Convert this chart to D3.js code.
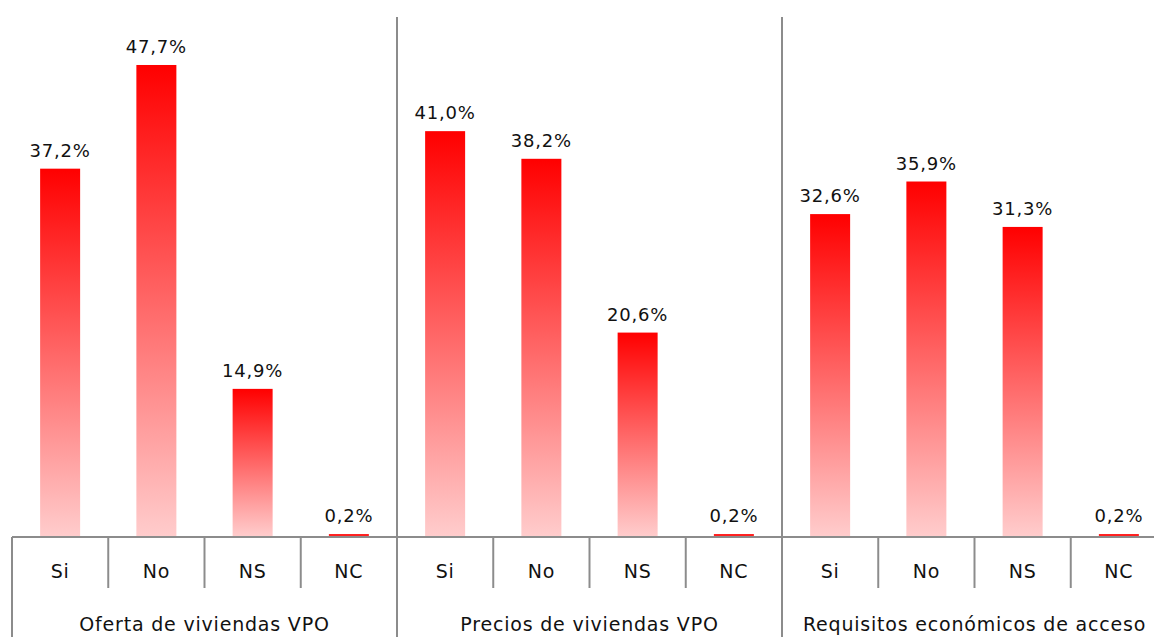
<!DOCTYPE html>
<html>
<head>
<meta charset="utf-8">
<script src="https://cdn.jsdelivr.net/npm/d3@7"></script>
<style>
  html, body { margin: 0; padding: 0; background: #fff; }
  svg { display: block; }
</style>
</head>
<body>
<div id="chart"></div>
<script>
// ── Data ───────────────────────────────────────────────────────────────
const groups = ["Oferta de viviendas VPO", "Precios de viviendas VPO", "Requisitos económicos de acceso"];
const answers = ["Si", "No", "NS", "NC"];
const oferta = [37.2, 47.7, 14.9, 0.2];
const precios = [41.0, 38.2, 20.6, 0.2];
const requisitos = [32.6, 35.9, 31.3, 0.2];
const seriesValues = [oferta, precios, requisitos];

const W = 1154, H = 637;
const left = 12, catW = 96.25;
const baseY = 536, topY = 17;

const svg = d3.select("#chart").append("svg")
    .attr("width", W).attr("height", H)
    .style("font-family", "'DejaVu Sans', Verdana, sans-serif");

const defs = svg.append("defs");
const grad = defs.append("linearGradient")
    .attr("id", "barGrad")
    .attr("x1", 0).attr("y1", 0).attr("x2", 0).attr("y2", 1);
grad.append("stop").attr("offset", "0%").attr("stop-color", "#ff0000");
grad.append("stop").attr("offset", "100%").attr("stop-color", "#ffcccc");

// ── Scales ─────────────────────────────────────────────────────────────
const x0 = d3.scaleBand()
    .domain(groups)
    .range([left, left + catW * 4 * groups.length])
    .paddingInner(0).paddingOuter(0);

const x1 = d3.scaleBand()
    .domain(answers)
    .range([0, x0.bandwidth()]);

const y = d3.scaleLinear().domain([0, 52.56]).range([baseY, topY]);

const rows = [];
groups.forEach((g, gi) => {
    answers.forEach((a, ai) => {
        rows.push({ group: g, answer: a, value: seriesValues[gi][ai] });
    });
});

// ── Bars ───────────────────────────────────────────────────────────────
const barW = 40;
svg.append("g").selectAll("rect")
    .data(rows)
    .join("rect")
    .attr("x", d => x0(d.group) + x1(d.answer) + x1.bandwidth() / 2 - barW / 2)
    .attr("y", d => y(d.value))
    .attr("width", barW)
    .attr("height", d => Math.max(2, baseY - y(d.value)))
    .attr("fill", d => d.value < 1 ? "#ff2020" : "url(#barGrad)");

svg.append("g").selectAll("text")
    .data(rows)
    .join("text")
    .attr("x", d => x0(d.group) + x1(d.answer) + x1.bandwidth() / 2)
    .attr("y", d => y(d.value) - 12)
    .attr("text-anchor", "middle")
    .style("font-size", "18px")
    .style("letter-spacing", "0.8px")
    .style("fill", "#111")
    .text(d => d.value.toFixed(1).replace(".", ",") + "%");

// ── Axis ───────────────────────────────────────────────────────────────
const lineColor = "#8c8c8c";
const axisY = baseY + 1;

svg.append("line")
    .attr("x1", left).attr("x2", W)
    .attr("y1", axisY).attr("y2", axisY)
    .attr("stroke", lineColor).attr("stroke-width", 2);

// group separators (full height) and left edge
const groupEdges = groups.map(g => x0(g)).concat([x0.range()[1]]);
groupEdges.forEach((gx, i) => {
    svg.append("line")
        .attr("x1", gx).attr("x2", gx)
        .attr("y1", i === 0 ? axisY : topY).attr("y2", H)
        .attr("stroke", lineColor).attr("stroke-width", 2);
});

// category dividers within each group
groups.forEach(g => {
    answers.slice(1).forEach(a => {
        const cx = x0(g) + x1(a);
        svg.append("line")
            .attr("x1", cx).attr("x2", cx)
            .attr("y1", axisY).attr("y2", 588)
            .attr("stroke", lineColor).attr("stroke-width", 2);
    });
    answers.forEach(a => {
        svg.append("text")
            .attr("x", x0(g) + x1(a) + x1.bandwidth() / 2)
            .attr("y", 578)
            .attr("text-anchor", "middle")
            .style("font-size", "19px")
            .style("letter-spacing", "0.8px")
            .style("fill", "#111")
            .text(a);
    });
    svg.append("text")
        .attr("x", x0(g) + x0.bandwidth() / 2)
        .attr("y", 631)
        .attr("text-anchor", "middle")
        .style("font-size", "19px")
        .style("letter-spacing", "0.8px")
        .style("fill", "#111")
        .text(g);
});
</script>
</body>
</html>
